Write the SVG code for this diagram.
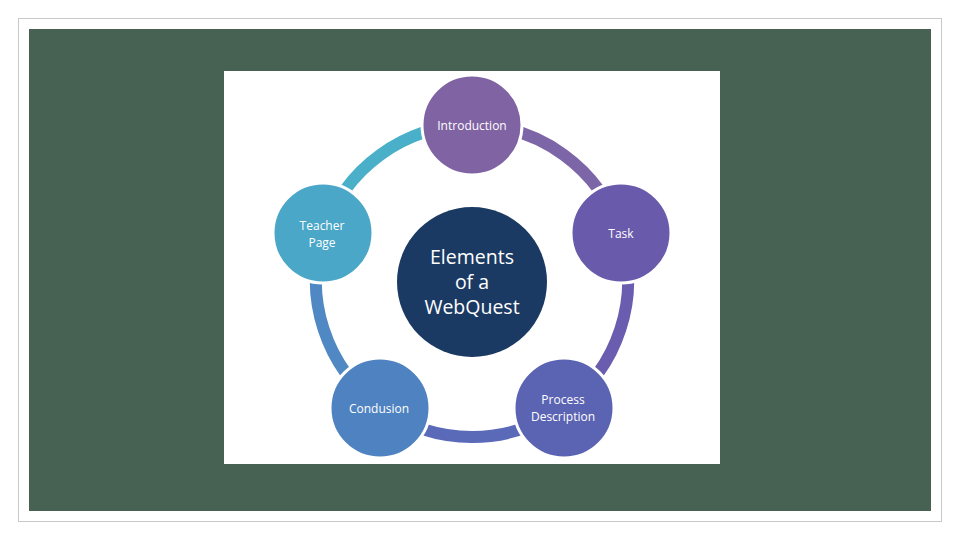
<svg xmlns="http://www.w3.org/2000/svg" width="960" height="540" viewBox="0 0 960 540">
<style>
.ring{fill:none;stroke-width:12}
.node{stroke:#fff;stroke-width:3}
.lbl{font-family:"Open Sans","Liberation Sans",sans-serif;font-size:12px;fill:#fff;text-anchor:middle;dominant-baseline:central}
.big{font-family:"Open Sans","Liberation Sans",sans-serif;font-size:19.5px;fill:#fff;text-anchor:middle;dominant-baseline:central}
</style>
<rect width="960" height="540" fill="#fff"/>
<rect x="18.5" y="18.5" width="923" height="503" fill="#fff" stroke="#c8c8c8" stroke-width="1"/>
<rect x="29" y="29" width="902" height="482" fill="#476152"/>
<rect x="224" y="71" width="496" height="393" fill="#fff"/>
<g id="connectors">
<path class="ring" stroke="#7d66a7" d="M472 125 A156 156 0 0 1 620.4 232.8"/>
<path class="ring" stroke="#6a5caf" d="M620.4 232.8 A156 156 0 0 1 563.7 407.2"/>
<path class="ring" stroke="#5b69b9" d="M563.7 407.2 A156 156 0 0 1 380.3 407.2"/>
<path class="ring" stroke="#4f88c2" d="M380.3 407.2 A156 156 0 0 1 323.6 232.8"/>
<path class="ring" stroke="#4aafc8" d="M323.6 232.8 A156 156 0 0 1 472 125"/>
</g>
<g id="center"><circle cx="472" cy="282" r="75" fill="#1b3a63"/>
<text class="big" x="472" y="256">Elements</text><text class="big" x="472" y="281">of a</text><text class="big" x="472" y="306">WebQuest</text></g>
<g id="introduction"><circle class="node" cx="472" cy="125" r="50" fill="#7f63a3"/><text class="lbl" x="472" y="125">Introduction</text></g>
<g id="task"><circle class="node" cx="621" cy="233" r="50" fill="#6a5aab"/><text class="lbl" x="621" y="233">Task</text></g>
<g id="process"><circle class="node" cx="564" cy="408" r="50" fill="#5b63b3"/><text class="lbl" x="563" y="399">Process</text><text class="lbl" x="563" y="416">Description</text></g>
<g id="conclusion"><circle class="node" cx="380" cy="408" r="50" fill="#4f82c0"/><text class="lbl" x="379" y="408">Condusion</text></g>
<g id="teacher"><circle class="node" cx="323" cy="233" r="50" fill="#4aa7c8"/><text class="lbl" x="322" y="225">Teacher</text><text class="lbl" x="322" y="242">Page</text></g>
</svg>
